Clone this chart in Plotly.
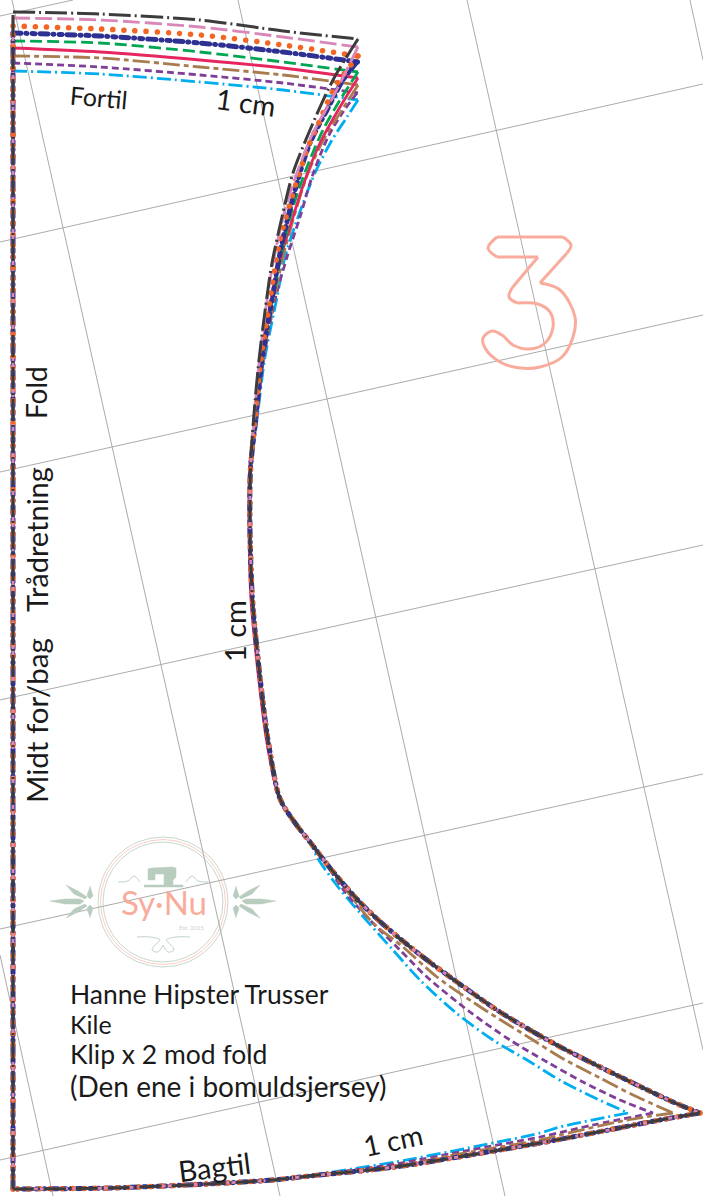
import plotly.graph_objects as go

W, H = 703, 1196
FONT = "Lato"
INK = "#1a1a1a"
GRID_COLOR = "#ababab"
SALMON = "#f9ab9c"
SAGE = "#b9cdbf"

# grey sheet grid: (x0, y0, x1, y1)
GRID_X0 = [0, 0, 0, 0, 0, 0, 12, 0, 238, 467, 690]
GRID_Y0 = [16, 242, 472, 700, 929, 1160, 0, 955, 0, 0, 0]
GRID_X1 = [73, 703, 703, 703, 703, 703, 280, 53, 505, 703, 703]
GRID_Y1 = [0, 84, 315, 545, 774, 1003, 1196, 1196, 1196, 1050, 60]

LEFT_X = 13
BOTTOM_Y = 1189

# top edge (waist) of each size
TOP_X = [13, 100, 200, 283, 358]
TOP_CHARCOAL = [12, 14, 20, 31, 39]
TOP_PINK = [18, 20, 27, 37, 47]
TOP_ORANGE = [26, 29, 35, 45, 56]
TOP_NAVY = [33, 36, 43, 52, 62]
TOP_GREEN = [41, 43, 52, 62, 72]
TOP_CRIMSON = [48, 52, 60, 68, 78]
TOP_BROWN = [56, 58, 67, 75, 85]
TOP_PURPLE = [63, 67, 75, 83, 93]
TOP_BLUE = [71, 74, 82, 90, 100]

# upper side seam of each size
SIDE_CHARCOAL_X = [358, 333, 310, 293, 282, 272, 266.5, 259, 253.5]
SIDE_CHARCOAL_Y = [39, 80, 130, 173, 217, 263, 300, 360, 420]
SIDE_PINK_X = [358, 333, 313, 298, 285, 273, 267, 259.3, 254]
SIDE_PINK_Y = [47, 97, 133, 170, 210, 263, 300, 360, 420]
SIDE_ORANGE_X = [358, 335, 317, 308, 292, 280, 270, 261, 255]
SIDE_ORANGE_Y = [56, 87, 127, 147, 197, 240, 300, 360, 420]
SIDE_NAVY_X = [357, 343, 327, 310, 297, 282, 272, 262, 255.5]
SIDE_NAVY_Y = [62, 80, 110, 143, 183, 243, 300, 360, 420]
SIDE_GREEN_X = [358, 340, 323, 307, 293, 283, 272.5, 262, 255.5]
SIDE_GREEN_Y = [72, 100, 130, 167, 207, 247, 300, 360, 420]
SIDE_CRIMSON_X = [358, 340, 320, 305, 293, 278, 271, 260.5, 254.5]
SIDE_CRIMSON_Y = [78, 107, 143, 180, 217, 267, 300, 360, 420]
SIDE_BROWN_X = [358, 342, 325, 308, 293, 283, 274, 263, 256]
SIDE_BROWN_Y = [85, 110, 137, 173, 220, 257, 300, 360, 420]
SIDE_PURPLE_X = [357, 343, 328, 312, 300, 287, 275, 263.5, 256.5]
SIDE_PURPLE_Y = [93, 112, 137, 177, 217, 257, 300, 360, 420]
SIDE_BLUE_X = [358, 347, 332, 315, 297, 285, 276.5, 264.5, 257]
SIDE_BLUE_Y = [100, 117, 140, 173, 220, 257, 300, 360, 420]

# stretch every size shares
MID_X = [250.5, 250, 252.5, 260, 268, 278, 283, 298, 310]
MID_Y = [470, 530, 600, 677, 740, 793, 805, 827, 842]
MID_CRIMSON_X = [249.5, 249, 251, 258.5, 266.5, 277.5, 283, 298, 310]

# lower curve and bottom edge
LOW_OUTER_X = [330, 355, 375, 398, 423, 450, 500, 553, 590, 633, 673, 700]
LOW_OUTER_Y = [868, 897, 917, 937, 957, 977, 1012, 1043, 1062, 1083, 1102, 1113]
BOT_OUTER_X = [700, 660, 593, 540, 470, 395, 300, 273, 207, 110, 13]
BOT_OUTER_Y = [1113, 1120, 1133, 1143, 1155, 1167, 1177, 1180, 1184, 1188, 1189]

LOW_BROWN_X = [330, 350, 373, 403, 437, 485, 533, 560, 600, 633, 673]
LOW_BROWN_Y = [868, 895, 923, 947, 977, 1010, 1040, 1057, 1078, 1095, 1113]
BOT_BROWN_X = [673, 627, 560, 540, 470, 395, 300]
BOT_BROWN_Y = [1113, 1120, 1135, 1140, 1152, 1166, 1177]

LOW_PURPLE_X = [322, 345, 370, 400, 427, 470, 510, 547, 583, 620, 653]
LOW_PURPLE_Y = [858, 892, 920, 950, 977, 1012, 1040, 1062, 1082, 1100, 1113]
BOT_PURPLE_X = [653, 593, 540, 470, 395, 300]
BOT_PURPLE_Y = [1113, 1125, 1137, 1150, 1164, 1177]

LOW_BLUE_X = [317, 335, 360, 393, 420, 455, 493, 527, 563, 593, 628]
LOW_BLUE_Y = [857, 883, 913, 950, 980, 1012, 1040, 1060, 1082, 1097, 1113]
BOT_BLUE_X = [628, 560, 540, 468, 395, 300]
BOT_BLUE_Y = [1113, 1127, 1133, 1148, 1162, 1177]

# the big outlined number, piece by piece
THREE_BAR_X = [497, 563]
THREE_BAR_Y = [237, 237]
THREE_CAP_X = [563, 571, 567]
THREE_CAP_Y = [237, 245, 253]
THREE_DIAG_X = [567, 540]
THREE_DIAG_Y = [253, 283]
THREE_BOWL_X = [540, 560, 575, 573, 562, 540, 520, 500, 485, 483, 492, 502, 513, 530, 545, 553, 550, 538, 517]
THREE_BOWL_Y = [283, 290, 317, 337, 357, 367, 368, 362, 348, 338, 331, 335, 345, 349, 343, 327, 312, 304, 303]
THREE_IN_X = [517, 509, 512]
THREE_IN_Y = [303, 297, 288]
THREE_DIAG2_X = [512, 538]
THREE_DIAG2_Y = [288, 257]
THREE_LOW_X = [538, 497]
THREE_LOW_Y = [257, 257]
THREE_CAP2_X = [497, 488, 497]
THREE_CAP2_Y = [257, 248, 237]

# logo artwork
RING_CX, RING_CY = 163, 902
RING_TEAL_R = [65, 60]
RING_SALMON_R = [62.5]
MACHINE_X = [144, 183, 183, 173, 173, 176, 176, 172, 152, 148, 148, 155, 155, 164, 164, 144]
MACHINE_Y = [887, 887, 885, 885, 880, 877, 868, 867, 868, 869, 880, 880, 874, 874, 885, 885]
LEAF_LONG_X = [50, 65, 80, 84, 80, 65, 50]
LEAF_LONG_Y = [901, 899, 899, 901, 904, 904, 901]
LEAF_UP_X = [66, 78, 87, 85, 74, 66]
LEAF_UP_Y = [885, 891, 897, 899, 894, 885]
LEAF_DOWN_X = [66, 78, 87, 85, 74, 66]
LEAF_DOWN_Y = [918, 912, 906, 904, 909, 918]
LEAF_V1_X = [90, 92, 93, 90, 87, 88]
LEAF_V1_Y = [886, 892, 896, 899, 896, 892]
LEAF_V2_X = [90, 92, 93, 90, 87, 88]
LEAF_V2_Y = [918, 912, 908, 905, 908, 912]
ORN_LEFT_X = [118, 128, 134, 140]
ORN_LEFT_Y = [882, 881, 876, 882]
ORN_RIGHT_X = [208, 198, 192, 186]
ORN_RIGHT_Y = [882, 881, 876, 882]
FLOUR_LEFT_X = [137, 150, 160, 155, 152, 158, 163]
FLOUR_LEFT_Y = [937, 937, 940, 945, 950, 952, 945]
FLOUR_RIGHT_X = [190, 176, 166, 171, 174, 168, 163]
FLOUR_RIGHT_Y = [937, 937, 940, 945, 950, 952, 945]

# texts
TEXTS = ["Fortil", "1 cm", "Fold", "Trådretning", "Midt for/bag", "1 cm", "Bagtil", "1 cm",
         "Hanne Hipster Trusser", "Kile", "Klip x 2 mod fold", "(Den ene i bomuldsjersey)"]
TEXT_X = [99, 246, 36, 36, 36, 234, 214, 393, 68, 68, 68, 68]
TEXT_Y = [97, 102, 393, 540, 721, 631, 1166, 1140, 994, 1024, 1054, 1086]
TEXT_ANGLE = [5, 8, -90, -90, -90, -90, -7, -12, 0, 0, 0, 0]
TEXT_SIZE = [25, 28, 28, 29, 29.5, 29, 29, 28, 26.5, 25, 26.5, 28]
TEXT_ANCHOR = ["center"] * 8 + ["left"] * 4


def joined(*parts):
    out = []
    for i, p in enumerate(parts):
        if i:
            out.append(None)
        out.extend(p)
    return out


fig = go.Figure()

for x0, y0, x1, y1 in zip(GRID_X0, GRID_Y0, GRID_X1, GRID_Y1):
    fig.add_trace(go.Scatter(x=[x0, x1], y=[y0, y1], mode="lines", name="grid",
                             line=dict(color=GRID_COLOR, width=1)))

# number 3
fig.add_trace(go.Scatter(
    x=joined(THREE_BAR_X, THREE_CAP_X, THREE_DIAG_X, THREE_BOWL_X, THREE_IN_X, THREE_DIAG2_X, THREE_LOW_X, THREE_CAP2_X),
    y=joined(THREE_BAR_Y, THREE_CAP_Y, THREE_DIAG_Y, THREE_BOWL_Y, THREE_IN_Y, THREE_DIAG2_Y, THREE_LOW_Y, THREE_CAP2_Y),
    mode="lines", name="3",
    line=dict(color=SALMON, width=3, shape="spline", smoothing=1.0)))

# logo
for a_x, a_y in [(LEAF_LONG_X, LEAF_LONG_Y), (LEAF_UP_X, LEAF_UP_Y), (LEAF_DOWN_X, LEAF_DOWN_Y),
                 (LEAF_V1_X, LEAF_V1_Y), (LEAF_V2_X, LEAF_V2_Y)]:
    fig.add_trace(go.Scatter(x=a_x, y=a_y, mode="lines", fill="toself", fillcolor=SAGE,
                             line=dict(color=SAGE, width=0.5), name="leaf"))
    fig.add_trace(go.Scatter(x=[2 * RING_CX - v for v in a_x], y=a_y, mode="lines", fill="toself",
                             fillcolor=SAGE, line=dict(color=SAGE, width=0.5), name="leaf"))
fig.add_trace(go.Scatter(x=MACHINE_X, y=MACHINE_Y, mode="lines", fill="toself", fillcolor=SAGE,
                         line=dict(color=SAGE, width=0.5), name="machine"))
for a_x, a_y in [(ORN_LEFT_X, ORN_LEFT_Y), (ORN_RIGHT_X, ORN_RIGHT_Y),
                 (FLOUR_LEFT_X, FLOUR_LEFT_Y), (FLOUR_RIGHT_X, FLOUR_RIGHT_Y)]:
    fig.add_trace(go.Scatter(x=a_x, y=a_y, mode="lines", name="ornament",
                             line=dict(color=SAGE, width=0.9, shape="spline")))

SIZES = [
    ("blue", "#00aeef", "14px,4px,2px,4px", 2.8, TOP_BLUE, SIDE_BLUE_X, SIDE_BLUE_Y, MID_X, LOW_BLUE_X, LOW_BLUE_Y, BOT_BLUE_X, BOT_BLUE_Y),
    ("purple", "#7f3f98", "7px,4px", 2.8, TOP_PURPLE, SIDE_PURPLE_X, SIDE_PURPLE_Y, MID_X, LOW_PURPLE_X, LOW_PURPLE_Y, BOT_PURPLE_X, BOT_PURPLE_Y),
    ("brown", "#a97c50", "17px,4px,5px,4px", 2.8, TOP_BROWN, SIDE_BROWN_X, SIDE_BROWN_Y, MID_X, LOW_BROWN_X, LOW_BROWN_Y, BOT_BROWN_X, BOT_BROWN_Y),
    ("crimson", "#e6275f", "solid", 2.8, TOP_CRIMSON, SIDE_CRIMSON_X, SIDE_CRIMSON_Y, MID_CRIMSON_X, LOW_OUTER_X, LOW_OUTER_Y, BOT_OUTER_X, BOT_OUTER_Y),
    ("green", "#00a651", "12px,5px", 2.8, TOP_GREEN, SIDE_GREEN_X, SIDE_GREEN_Y, MID_X, LOW_OUTER_X, LOW_OUTER_Y, BOT_OUTER_X, BOT_OUTER_Y),
    ("navy", "#2e3192", "8px,5px,1px,5px,3px,5px", 5, TOP_NAVY, SIDE_NAVY_X, SIDE_NAVY_Y, MID_X, LOW_OUTER_X, LOW_OUTER_Y, BOT_OUTER_X, BOT_OUTER_Y),
    ("orange", "#f26522", "0.1px,11px", 5.5, TOP_ORANGE, SIDE_ORANGE_X, SIDE_ORANGE_Y, MID_X, LOW_OUTER_X, LOW_OUTER_Y, BOT_OUTER_X, BOT_OUTER_Y),
    ("pink", "#d987b8", "17px,5px", 2.8, TOP_PINK, SIDE_PINK_X, SIDE_PINK_Y, MID_X, LOW_OUTER_X, LOW_OUTER_Y, BOT_OUTER_X, BOT_OUTER_Y),
    ("charcoal", "#3c3c3c", "22px,4px,2px,4px", 3, TOP_CHARCOAL, SIDE_CHARCOAL_X, SIDE_CHARCOAL_Y, MID_X, LOW_OUTER_X, LOW_OUTER_Y, BOT_OUTER_X, BOT_OUTER_Y),
]

ROUND_NAMES = ["navy", "orange"]
for name, color, dash, width, top_y, sx, sy, mx, lx, ly, bx, by in SIZES:
    xs = joined(TOP_X, sx + mx + lx, bx, [LEFT_X, LEFT_X])
    ys = joined(top_y, sy + MID_Y + ly, by, [BOTTOM_Y, top_y[0]])
    fig.add_trace(go.Scatter(x=xs, y=ys, mode="lines", name=name,
                             line=dict(color=color, width=width, dash=dash, shape="spline", smoothing=0.8)))

# rings
for r in RING_TEAL_R:
    fig.add_shape(type="circle", xref="x", yref="y", x0=RING_CX - r, x1=RING_CX + r,
                  y0=RING_CY - r, y1=RING_CY + r, line=dict(color=SAGE, width=0.8), layer="below")
for r in RING_SALMON_R:
    fig.add_shape(type="circle", xref="x", yref="y", x0=RING_CX - r, x1=RING_CX + r,
                  y0=RING_CY - r, y1=RING_CY + r, line=dict(color=SALMON, width=0.6), layer="below")

for t, x, y, a, s, anc in zip(TEXTS, TEXT_X, TEXT_Y, TEXT_ANGLE, TEXT_SIZE, TEXT_ANCHOR):
    fig.add_annotation(x=x, y=y, text=t, textangle=a, showarrow=False, xref="x", yref="y",
                       xanchor=anc, yanchor="middle",
                       font=dict(family=FONT, size=s, color=INK))
fig.add_annotation(x=164, y=902, text="Sy·Nu", showarrow=False, xref="x", yref="y",
                   font=dict(family="Lato", size=33, color=SALMON))
fig.add_annotation(x=192, y=927, text="Est. 2015", showarrow=False, xref="x", yref="y",
                   font=dict(family="Lato", size=6, color="#c9d3cc"))

fig.update_layout(
    width=W, height=H, autosize=False, showlegend=False, hovermode=False,
    margin=dict(l=0, r=0, t=0, b=0), paper_bgcolor="white", plot_bgcolor="white",
    xaxis=dict(range=[0, W], visible=False, fixedrange=True),
    yaxis=dict(range=[H, 0], visible=False, fixedrange=True),
)

POST = """
document.documentElement.style.margin='0';
document.body.style.margin='0';
document.body.style.overflow='hidden';
var gd=document.getElementById('{plot_id}');
var names=%s;
gd.querySelectorAll('.scatterlayer .trace').forEach(function(t,i){
  var d=gd.data[i];
  if(d&&names.indexOf(d.name)>=0){
    t.querySelectorAll('.js-line').forEach(function(p){p.style.strokeLinecap='round';});
  }
});
""" % str(ROUND_NAMES)

fig.write_html("out.html", post_script=POST, config={"displayModeBar": False})
